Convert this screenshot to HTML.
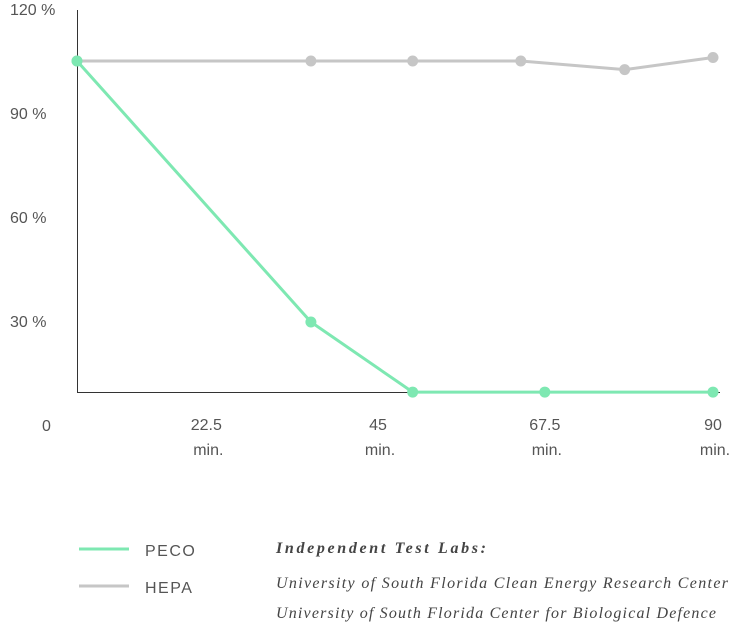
<!DOCTYPE html>
<html><head><meta charset="utf-8"><style>
body{margin:0;background:#fff;width:730px;height:623px;overflow:hidden;font-family:"Liberation Sans",sans-serif}
svg{display:block}
.lab{font-family:"Liberation Sans",sans-serif;font-size:16px;fill:#555}
.src{font-family:"Liberation Serif",serif;font-style:italic;font-size:16px;fill:#444}
</style></head><body>
<svg id="chart" width="730" height="623"></svg>
<script>
const yTicks=[0,30,60,90,120];
const yTickLabels=["0","30 %","60 %","90 %","120 %"];
const xTicks=[18.3,42.6,66.2,90];
const xTickLabels=["22.5","45","67.5","90"];
const hepaX=[0,33.1,47.5,62.8,77.5,90];
const hepaY=[105,105,105,105,102.5,106];
const pecoX=[0,33.1,47.5,66.2,90];
const pecoY=[105,29.7,9.5,9.5,9.5];
const svg=document.getElementById('chart');
const NS='http://www.w3.org/2000/svg';
function xs(t){return 77+t*(713-77)/90;}
function ys(v){return 425-v*104/30;}
function mk(tag,attrs,parent){const e=document.createElementNS(NS,tag);for(const k in attrs)e.setAttribute(k,attrs[k]);(parent||svg).appendChild(e);return e;}
const ax=mk('path',{d:`M77.5 10 V392.5 H720`,stroke:'#333',fill:'none','stroke-width':1});


yTicks.forEach((v,i)=>{const t=mk('text',{x:v===0?42:10,y:ys(v)+6,class:'lab'});t.textContent=yTickLabels[i];

});
xTicks.forEach((v,i)=>{const t=mk('text',{x:xs(v),y:430,class:'lab','text-anchor':'middle'});t.textContent=xTickLabels[i];


const m=mk('text',{x:xs(v)+2,y:455,class:'lab','text-anchor':'middle','font-size':'15'});m.textContent='min.';

});
function series(X,Y,color,name){
 const g=mk('g',{});
 
 
 mk('polyline',{points:X.map((x,i)=>xs(x)+','+ys(Y[i])).join(' '),fill:'none',stroke:color,'stroke-width':3},g);
 X.forEach((x,i)=>{const c=mk('circle',{cx:xs(x),cy:ys(Y[i]),r:5.5,fill:color},g);
 
 });
}
series(hepaX,hepaY,'#c6c6c6','hepa');
series(pecoX,pecoY,'#7ee8b2','peco');
</script>
<svg width="730" height="623" style="position:absolute;left:0;top:0">
<line x1="79" y1="549" x2="129" y2="549" stroke="#7ee8b2" stroke-width="3"/>
<text x="145" y="556" class="lab" letter-spacing="1.5">PECO</text>
<line x1="79" y1="586" x2="129" y2="586" stroke="#c6c6c6" stroke-width="3"/>
<text x="145" y="593" class="lab" letter-spacing="1.5">HEPA</text>
<text x="276" y="553" class="src" font-weight="bold" textLength="210" lengthAdjust="spacing">Independent Test Labs:</text>
<text x="276" y="588" class="src" textLength="452" lengthAdjust="spacing">University of South Florida Clean Energy Research Center</text>
<text x="276" y="618" class="src" textLength="440" lengthAdjust="spacing">University of South Florida Center for Biological Defence</text>
</svg>
</body></html>
